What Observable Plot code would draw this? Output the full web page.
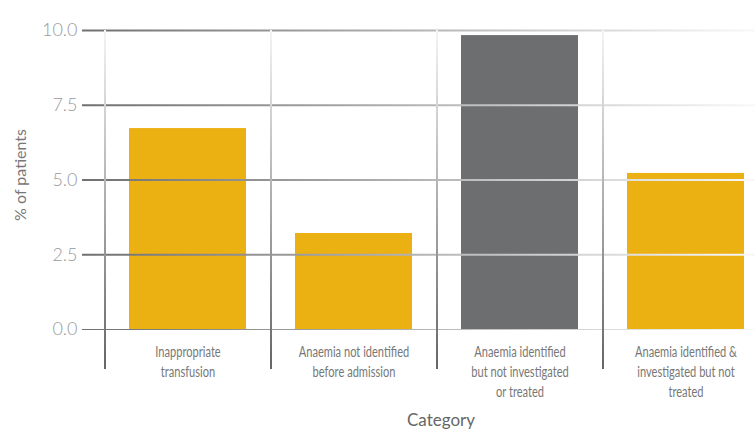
<!DOCTYPE html>
<html>
<head>
<meta charset="utf-8">
<script src="https://cdn.jsdelivr.net/npm/d3@7"></script>
<script src="https://cdn.jsdelivr.net/npm/@observablehq/plot@0.6"></script>
<style>
  html, body { margin: 0; padding: 0; background: white; }
</style>
</head>
<body>
<div id="chart"></div>
<script>
const categories = [
  "Inappropriate\ntransfusion",
  "Anaemia not identified\nbefore admission",
  "Anaemia identified\nbut not investigated\nor treated",
  "Anaemia identified &\ninvestigated but not\ntreated"
];
const values = [6.72, 3.21, 9.83, 5.22];
const groups = ["other", "other", "highlight", "other"];
const yTicks = [0, 2.5, 5, 7.5, 10];
const yLabel = "% of patients";
const xLabel = "Category";

const data = categories.map((c, i) => ({category: c, value: values[i], group: groups[i]}));

const NS = "http://www.w3.org/2000/svg";
function gradientDefs(index, scales, vals, dims) {
  const defs = document.createElementNS(NS, "defs");
  const mk = (id, attrs, stops) => {
    const g = document.createElementNS(NS, "linearGradient");
    g.setAttribute("id", id);
    g.setAttribute("gradientUnits", "userSpaceOnUse");
    for (const [k, v] of Object.entries(attrs)) g.setAttribute(k, v);
    for (const [o, c] of stops) {
      const s = document.createElementNS(NS, "stop");
      s.setAttribute("offset", o);
      s.setAttribute("stop-color", c);
      g.appendChild(s);
    }
    defs.appendChild(g);
  };
  const x1 = dims.marginLeft, x2 = dims.width - dims.marginRight;
  mk("hgrad", {x1, x2, y1: 0, y2: 0}, [[0, "#707070"], [1, "#f8f8f8"]]);
  const yTop = dims.marginTop, yBot = dims.height - dims.marginBottom + 40;
  mk("vgrad", {x1: 0, x2: 0, y1: yTop, y2: yBot}, [[0, "#f4f4f4"], [1, "#666666"]]);
  return defs;
}

function shiftHalfStep(index, scales, vals, dims, ctx, next) {
  const g = next(index, scales, vals, dims, ctx);
  const wrap = document.createElementNS(NS, "g");
  wrap.setAttribute("transform", `translate(${-scales.x.step() / 2},0)`);
  wrap.appendChild(g);
  return wrap;
}

const chart = Plot.plot({
  width: 755,
  height: 430,
  marginLeft: 82,
  marginRight: 0,
  marginTop: 30,
  marginBottom: 101,
  style: {fontFamily: "Lato, sans-serif", background: "white"},
  x: {domain: categories, range: [104.5, 768.5], paddingInner: 0.295, paddingOuter: 0.1475, align: 0.5},
  y: {domain: [0, 10]},
  color: {domain: ["other", "highlight"], range: ["#EBB012", "#6D6E70"]},
  marks: [
    gradientDefs,
    Plot.barY(data, {x: "category", y: "value", fill: "group"}),
    Plot.ruleY(yTicks.filter(d => d > 0), {stroke: "url(#hgrad)", strokeWidth: 2}),
    Plot.ruleY([0], {stroke: "url(#hgrad)", strokeWidth: 1}),
    Plot.ruleX(categories, {x: d => d, y1: 10, y2: 0, insetBottom: -40, stroke: "url(#vgrad)", strokeWidth: 2, render: shiftHalfStep}),
    Plot.axisY({ticks: yTicks, tickSize: 0, tickPadding: 5, tickFormat: d3.format(".1f"), fontSize: 18, fontWeight: 300, fill: "#9a9a9a", label: null}),
    Plot.axisX({tickSize: 0, tickPadding: 13, fontSize: 15, fill: "#777", label: null, lineHeight: 1.34,
      fontFamily: "Lato, sans-serif"}),
    Plot.text([yLabel], {frameAnchor: "left", textAnchor: "middle", rotate: -90, dx: -62, dy: -5, fontSize: 16, fill: "#777", text: d => d}),
    Plot.text([xLabel], {frameAnchor: "bottom", dx: 22, dy: 96, fontSize: 17, fill: "#666", text: d => d})
  ]
});
// condense the category tick labels horizontally, as in the reference's narrow typeface
chart.querySelectorAll('g[aria-label="x-axis tick label"] text').forEach(t => {
  const tr = t.getAttribute("transform") || "";
  t.setAttribute("transform", tr + " scale(0.74,1)");
});
document.getElementById("chart").appendChild(chart);
</script>
</body>
</html>
